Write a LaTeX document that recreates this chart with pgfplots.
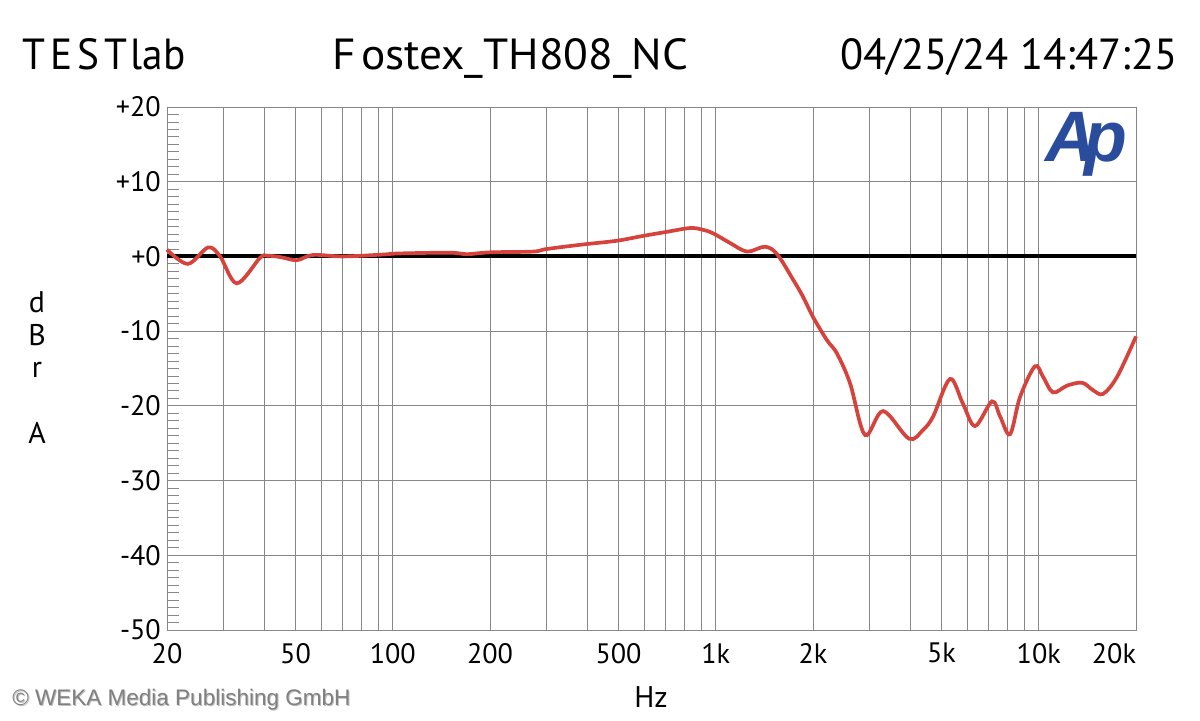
\documentclass[border=0pt]{standalone}
\usepackage{fontspec}
\setmainfont{PT Sans}
\newfontfamily\titlefont{PT Sans}
\newfontfamily\arialfont{Liberation Sans}
\usepackage{graphicx}
\usepackage{pgfplots}
\pgfplotsset{compat=1.18}
\definecolor{curvered}{RGB}{214,66,60}
\definecolor{gridgray}{RGB}{135,135,135}
\definecolor{apblue}{RGB}{42,76,156}

\begin{document}
\begin{tikzpicture}
\path[use as bounding box] (0,0) rectangle (24cm,14.4cm);
\begin{axis}[
  at={(3.34cm,1.8cm)}, anchor=south west,
  width=19.38cm, height=10.46cm, scale only axis,
  xmode=log, log basis x=10,
  xmin=20, xmax=20000, ymin=-50, ymax=20,
  xtick={20,50,100,200,500,1000,2000,5000,10000,20000},
  xticklabels={20,50,100,200,500,1k,2k,5k,10k,\makebox[0pt][r]{20k}},
  minor xtick={30,40,60,70,80,90,300,400,600,700,800,900,3000,4000,6000,7000,8000,9000},
  ytick={-50,-40,-30,-20,-10,0,10,20},
  yticklabels={-50,-40,-30,-20,-10,+0,+10,+20},
  minor y tick num=9,
  xmajorgrids, xminorgrids, ymajorgrids,
  grid style={gridgray, line width=0.5pt},
  minor grid style={gridgray, line width=0.5pt},
  major grid style={gridgray, line width=0.5pt},
  axis line style={gridgray, line width=0.5pt},
  xtick style={draw=none},
  minor x tick style={draw=none},
  ytick pos=left, tick align=inside,
  major tick length=0.24cm, minor tick length=0.24cm,
  ytick style={gridgray, line width=0.5pt},
  minor y tick style={gridgray, line width=0.5pt},
  ticklabel style={font=\fontsize{16}{18}\selectfont},
  xticklabel style={yshift=-0.14cm},
  /pgf/number format/assume math mode=true,
  clip=false,
]
\addplot[black, line width=2.3pt] coordinates {(20,0) (20000,0)};
\addplot[curvered, line width=2.1pt, smooth, tension=0.55] table {
f db
20 0.9
23.2 -1.0
26.8 1.2
29.2 0.0
32.9 -3.6
38.8 -0.2
40.8 0.1
45 -0.1
50.5 -0.5
56.6 0.2
70 0.0
93 0.25
105 0.4
150 0.5
170 0.3
200 0.55
272 0.65
300 1.0
388 1.6
494 2.1
596 2.75
707 3.3
832 3.8
906 3.6
980 3.1
1107 1.8
1250 0.65
1420 1.3
1548 0.3
1735 -3.1
1863 -5.4
2000 -8.1
2208 -11.2
2373 -13.0
2605 -17.0
2898 -23.9
3296 -20.7
3965 -24.4
4385 -23.2
4711 -21.4
5310 -16.4
5822 -19.7
6350 -22.7
7164 -19.4
7588 -21.4
8147 -23.8
8750 -18.8
9731 -14.7
10305 -16.1
11066 -18.2
12220 -17.3
13610 -16.9
14720 -17.9
15810 -18.4
17480 -16.1
20000 -10.7
};
\end{axis}
% titles
\node[anchor=base west, inner sep=0] at (0.44cm,13.0cm)
  {\resizebox{3.26cm}{0.62cm}{\titlefont T\kern0.12em E\kern0.12em S\kern0.12em T\kern0.08em lab}};
\node[anchor=base west, inner sep=0] at (6.64cm,13.0cm)
  {\resizebox{7.12cm}{0.62cm}{\titlefont F\kern0.12em ostex\_TH808\_NC}};
\node[anchor=base west, inner sep=0] at (16.8cm,13.0cm)
  {\resizebox{6.74cm}{0.62cm}{\titlefont 04/25/24 14:47:25}};
% Ap logo
\node[anchor=south west, inner sep=0, text=apblue] at (20.9cm,10.86cm)
  {\resizebox*{1.64cm}{1.28cm}{\arialfont\bfseries\itshape A\kern-0.16em p}};
% axis labels
\node[font=\fontsize{17}{19}\selectfont] at (13.02cm,0.46cm) {Hz};
\node[font=\fontsize{17}{18.7}\selectfont, align=center, inner sep=0] at (0.74cm,7.05cm)
  {d\\B\\r\\\strut\\A};
% copyright
\node[anchor=base west, inner sep=0, text=black!25] at (0.26cm,0.28cm)
  {\resizebox{6.76cm}{!}{\arialfont\fontsize{13}{15}\selectfont \textcopyright\ WEKA Media Publishing GmbH}};
\node[anchor=base west, inner sep=0, text=black!50] at (0.24cm,0.30cm)
  {\resizebox{6.76cm}{!}{\arialfont\fontsize{13}{15}\selectfont \textcopyright\ WEKA Media Publishing GmbH}};
\end{tikzpicture}
\end{document}
